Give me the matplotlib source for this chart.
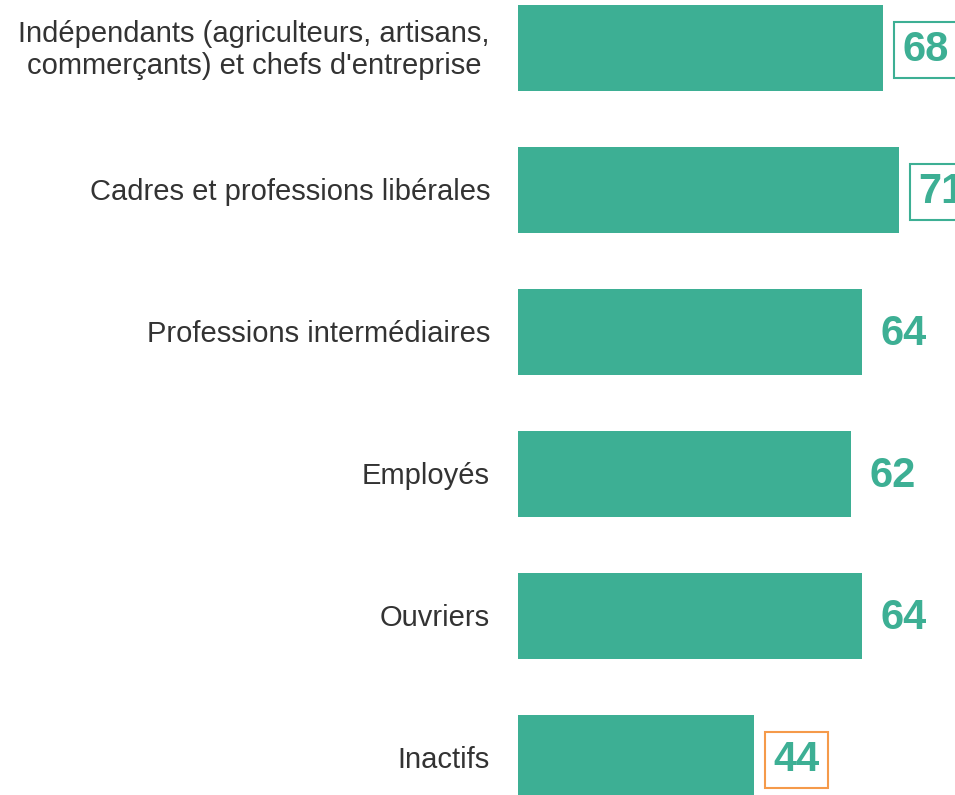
import matplotlib.pyplot as plt
from matplotlib import transforms

plt.rcParams['font.family'] = ['Liberation Sans', 'DejaVu Sans']

categories = [
    "Indépendants (agriculteurs, artisans,\ncommerçants) et chefs d'entreprise",
    "Cadres et professions libérales",
    "Professions intermédiaires",
    "Employés",
    "Ouvriers",
    "Inactifs",
]
values = [68, 71, 64, 62, 64, 44]
# box around value label: None, or edge colour
box_colors = ['#3daf94', '#3daf94', None, None, None, '#f59a4a']

green = '#3daf94'

fig = plt.figure(figsize=(9.55, 7.95), dpi=100)
ax = fig.add_axes([518 / 955, 0, 1 - 518 / 955, 1])

pos = list(range(len(values)))
ax.barh(pos, values, height=0.606, color=green)
ax.set_xlim(0, 437 / 5.37)
ax.set_ylim(5 + 37 / 142, -48 / 142)
ax.axis('off')

# category labels on the left, right-aligned 28 px before the bars
lab_tr = transforms.offset_copy(ax.transData, fig=fig, x=-28, y=-2, units='dots')
for y, name in zip(pos, categories):
    ax.text(0, y, name, transform=lab_tr, ha='right', va='center',
            multialignment='center', fontsize=21, color='#333333',
            linespacing=1.18)

# value labels
val_tr = transforms.offset_copy(ax.transData, fig=fig, x=19, y=-2, units='dots')
for y, v, bc in zip(pos, values, box_colors):
    kw = {}
    if bc:
        kw['bbox'] = dict(boxstyle='square,pad=0.2', fc='white', ec=bc, lw=1.5)
    ax.text(v, y, str(v), transform=val_tr, ha='left', va='center',
            fontsize=30, fontweight='bold', color=green, clip_on=False, **kw)

fig.savefig('out.png', dpi=100)
